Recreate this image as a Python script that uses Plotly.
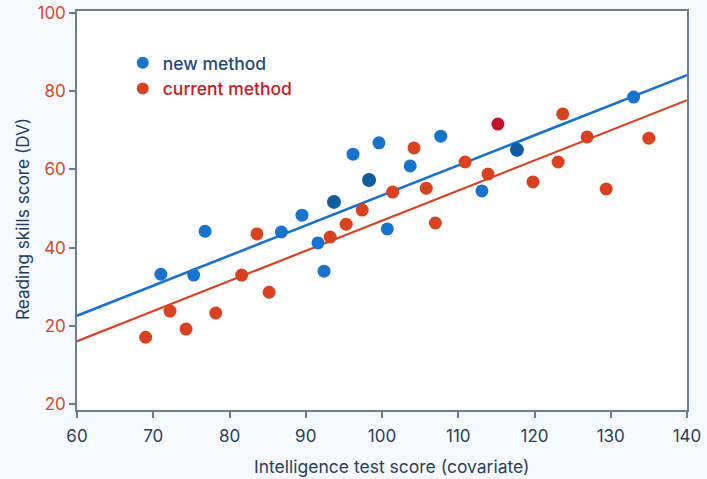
import plotly.graph_objects as go

# ---- data ----
new_x = [71.0, 75.3, 76.8, 86.8, 89.5, 91.6, 92.4, 96.2, 99.6, 100.7, 103.7, 107.7, 113.1, 133.0]
new_y = [33.2, 33.0, 44.2, 44.0, 48.3, 41.2, 34.0, 63.9, 66.8, 44.8, 60.9, 68.5, 54.5, 78.5]
new_dark_x = [93.7, 98.3, 117.7]
new_dark_y = [51.7, 57.3, 65.0]

cur_x = [69.0, 72.2, 74.3, 78.2, 81.6, 83.6, 85.2, 93.2, 95.3, 97.4, 101.4, 104.2, 105.8,
         107.0, 110.9, 113.9, 119.8, 123.1, 123.7, 126.9, 129.4, 135.0]
cur_y = [17.1, 23.8, 19.2, 23.3, 33.0, 43.5, 28.6, 42.7, 46.0, 49.6, 54.2, 65.5, 55.2,
         46.3, 61.9, 58.8, 56.8, 61.9, 74.2, 68.3, 55.0, 68.0]
cur_dark_x = [115.2]
cur_dark_y = [71.6]

line_x = [60, 140]
new_line_y = [22.6, 84.1]
cur_line_y = [16.1, 77.7]

x_ticks = [60, 70, 80, 90, 100, 110, 120, 130, 140]
y_ticks = [0, 20, 40, 60, 80, 100]
y_tick_text = ["20", "20", "40", "60", "80", "100"]

x_title = "Intelligence test score (covariate)"
y_title = "Reading skills score (DV)"

BLUE = "#1773cc"
BLUE_DARK = "#0f5c9f"
RED = "#d8421f"
RED_DARK = "#c3142b"
NAVY = "#23405f"

FONT = "Inter, Roboto, sans-serif"

fig = go.Figure()
fig.add_trace(go.Scatter(x=line_x, y=new_line_y, mode="lines",
                         line=dict(color=BLUE, width=2.6), showlegend=False, hoverinfo="skip"))
fig.add_trace(go.Scatter(x=line_x, y=cur_line_y, mode="lines",
                         line=dict(color=RED, width=2.2), showlegend=False, hoverinfo="skip"))

fig.add_trace(go.Scatter(x=new_x, y=new_y, mode="markers", name="<span style='color:#1d4a78'>new method</span>",
                         marker=dict(color=BLUE, size=13)))
fig.add_trace(go.Scatter(x=new_dark_x, y=new_dark_y, mode="markers", showlegend=False,
                         marker=dict(color=BLUE_DARK, size=14)))
fig.add_trace(go.Scatter(x=cur_x, y=cur_y, mode="markers", name="<span style='color:#c8171f'>current method</span>",
                         marker=dict(color=RED, size=13)))
fig.add_trace(go.Scatter(x=cur_dark_x, y=cur_dark_y, mode="markers", showlegend=False,
                         marker=dict(color=RED_DARK, size=13)))

axis_common = dict(showgrid=False, zeroline=False, showline=True, linecolor="#6c7d92",
                   linewidth=1.5, mirror=True, ticks="outside", ticklen=6, tickwidth=1.5,
                   tickcolor="#6c7d92", automargin=False)

fig.update_layout(
    width=707, height=479,
    margin=dict(l=77, r=20, t=11, b=69),
    paper_bgcolor="#f6f9fd",
    plot_bgcolor="#ffffff",
    font=dict(family=FONT, size=16, color=NAVY),
    xaxis=dict(range=[60, 140], tickvals=x_ticks,
               tickfont=dict(size=17, color="#2a3f57"), ticklabelstandoff=4,
               **axis_common),
    yaxis=dict(range=[-1.5, 100.5], tickvals=y_ticks, ticktext=y_tick_text,
               tickfont=dict(size=17, color="#cf4a2d"),
               **axis_common),
    legend=dict(x=0.075, y=0.915, xanchor="left", yanchor="top", bgcolor="rgba(0,0,0,0)",
                font=dict(size=17.5, family=FONT, weight=500), itemsizing="constant", tracegroupgap=5,
                itemwidth=30),
    showlegend=True,
)

fig.add_annotation(text=x_title, xref="x", yref="paper", x=101.2, y=0, yshift=-56,
                   showarrow=False, xanchor="center", yanchor="middle",
                   font=dict(size=17.5, color="#2a3f57", family=FONT))
fig.add_annotation(text=y_title, xref="paper", yref="y", x=0, y=47.3, xshift=-55,
                   showarrow=False, xanchor="center", yanchor="middle", textangle=-90,
                   font=dict(size=17.2, color="#1f3d5e", family=FONT))

fig.write_html("out.html")
